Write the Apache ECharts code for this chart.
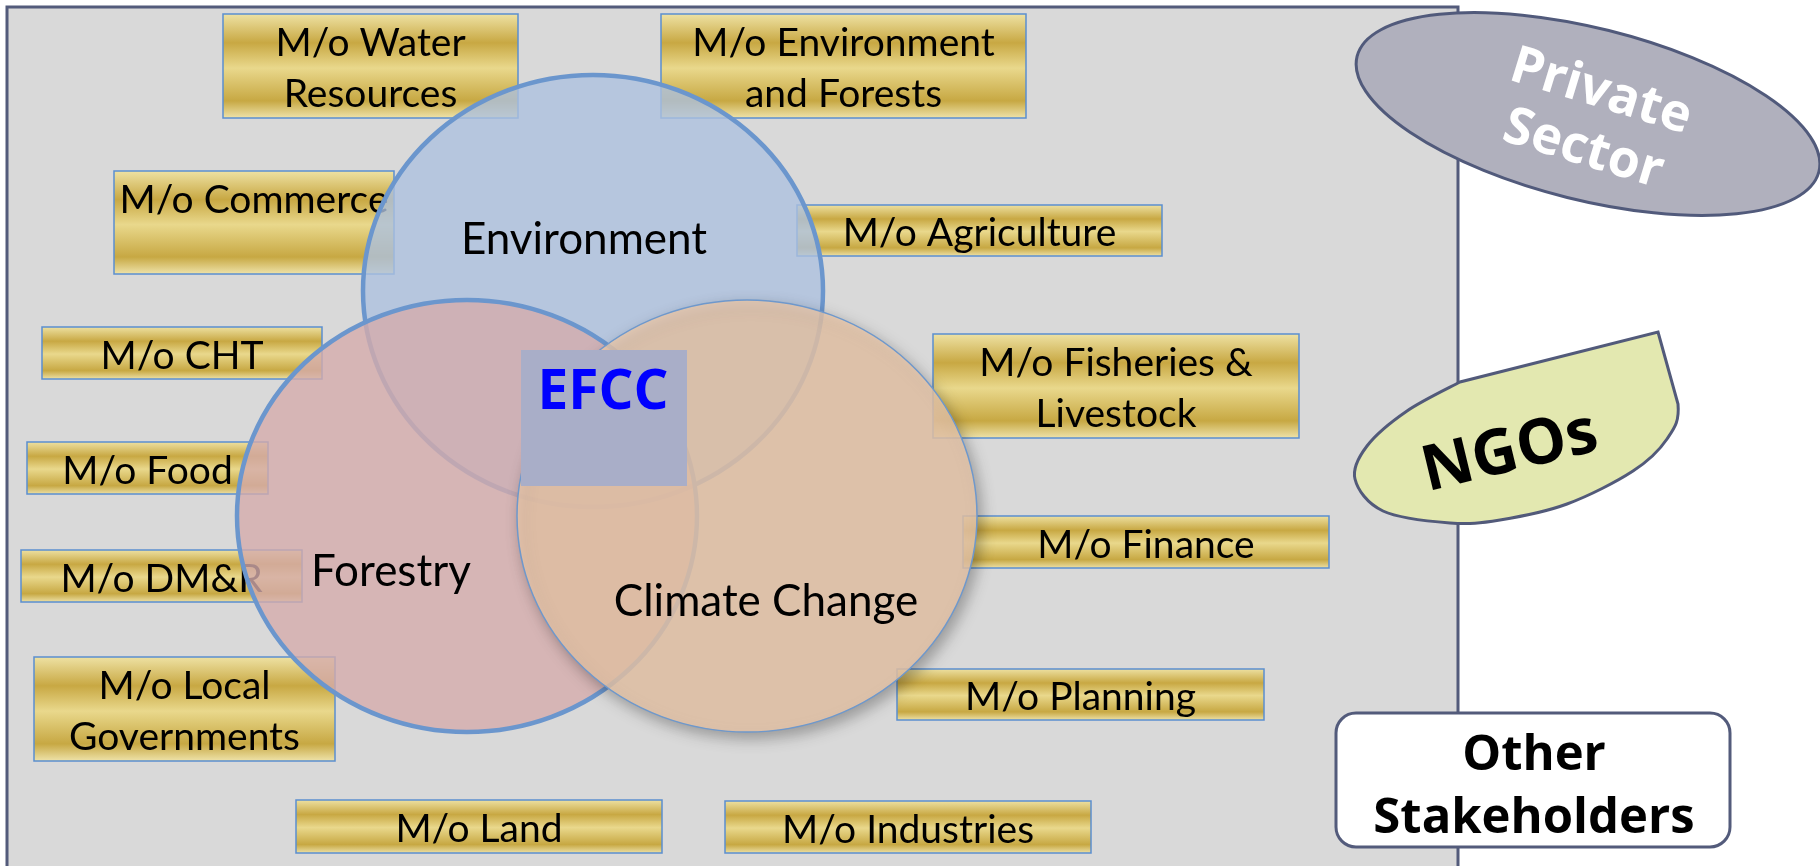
<!DOCTYPE html>
<html>
<head>
<meta charset="utf-8">
<script src="https://cdn.jsdelivr.net/npm/echarts@6/dist/echarts.min.js"></script>
<style>
html,body{margin:0;padding:0;background:#ffffff;}
#chart{width:1820px;height:866px;}
</style>
</head>
<body>
<div id="chart"></div>
<script>
// ---------------- content ----------------
const ministryLabels = [
  'M/o Water\nResources', 'M/o Environment\nand Forests', 'M/o Commerce', 'M/o Agriculture',
  'M/o CHT', 'M/o Fisheries &\nLivestock', 'M/o Food', 'M/o Finance', 'M/o DM&R',
  'M/o Local\nGovernments', 'M/o Planning', 'M/o Land', 'M/o Industries'
];
const circleLabels = ['Environment', 'Forestry', 'Climate Change'];
const coreLabel = 'EFCC';
const stakeholderLabels = ['Private\nSector', 'NGOs', 'Other\nStakeholders'];

// ---------------- layout (diagram units on hidden 0..1820 × 0..866 axes) ----------------
const boxLeft   = [223, 661, 114, 797,  42, 933,  27,  963,  21,  34,  897, 296,  725];
const boxTop    = [ 14,  14, 171, 205, 327, 334, 442,  516, 550, 657,  669, 800,  801];
const boxRight  = [518,1026, 394,1162, 322,1299, 268, 1329, 302, 335, 1264, 662, 1091];
const boxBottom = [118, 118, 274, 256, 379, 438, 494,  568, 602, 761,  720, 853,  853];
const boxTextShift = [3, 3, -22, 3, 3, 3, 3, 3, 3, 3, 3, 3, 3];

const circleCx = [593, 467, 747];
const circleCy = [291, 516, 516];
const circleRx = [230, 230, 230];
const circleRy = [216, 216, 216];
const circleLabelX = [584, 391, 766];
const circleLabelY = [240, 572, 602];

const coreBox = [521, 350, 687, 486];
const coreLabelPos = [603, 393];

const panelBox = [7, 7, 1458, 900];

const privateEllipse = [1588, 114, 238, 86];      // cx, cy, semi-major, semi-minor
const privateLabelPos = [1592, 121];
const ngoOutline = [
  [1658, 332], [1678, 404], [1667, 439], [1633, 471], [1567, 504], [1500, 520],
  [1450, 523], [1383, 511], [1355, 479], [1367, 446], [1407, 411], [1460, 382]
];
const ngoLabelPos = [1510, 453];
const otherBox = [1336, 713, 1730, 847];
const otherLabelPos = [1534, 788];

// ---------------- styles ----------------
const deg = Math.PI / 180;
const circleFill = ['rgba(172,193,223,0.8)', 'rgba(213,171,171,0.8)', 'rgba(238,202,172,0.8)'];
const circleStroke = ['#6b96cd', '#6b96cd', '#6e98cc'];
const circleStrokeW = [4.5, 4.5, 1.5];

function goldGradient() {
  return new echarts.graphic.LinearGradient(0, 0, 0, 1, [
    { offset: 0, color: '#efe3a6' },
    { offset: 0.28, color: '#c8a843' },
    { offset: 0.52, color: '#e9d88c' },
    { offset: 0.83, color: '#c7a843' },
    { offset: 1, color: '#f0e5ae' }
  ]);
}

function ellipsePath(cx, cy, rx, ry) {
  return 'M ' + (cx - rx) + ' ' + cy +
    ' A ' + rx + ' ' + ry + ' 0 1 0 ' + (cx + rx) + ' ' + cy +
    ' A ' + rx + ' ' + ry + ' 0 1 0 ' + (cx - rx) + ' ' + cy + ' Z';
}

function smoothPath(pts) {
  // corner -> straight to pts[1], Catmull-Rom through the rest, straight back to corner
  let d = 'M ' + pts[0][0] + ' ' + pts[0][1] + ' L ' + pts[1][0] + ' ' + pts[1][1];
  const n = pts.length;
  for (let i = 1; i < n - 1; i++) {
    const p0 = pts[i - 1], p1 = pts[i], p2 = pts[i + 1], p3 = pts[Math.min(i + 2, n - 1)];
    const c1 = [p1[0] + (p2[0] - p0[0]) / 6, p1[1] + (p2[1] - p0[1]) / 6];
    const c2 = [p2[0] - (p3[0] - p1[0]) / 6, p2[1] - (p3[1] - p1[1]) / 6];
    d += ' C ' + c1[0] + ' ' + c1[1] + ' ' + c2[0] + ' ' + c2[1] + ' ' + p2[0] + ' ' + p2[1];
  }
  d += ' Z';
  return d;
}

// ---------------- series data ----------------
const boxData = ministryLabels.map((_, i) => [boxLeft[i], boxTop[i], boxRight[i], boxBottom[i], i]);
const circleData = circleLabels.map((_, i) => [circleCx[i], circleCy[i], circleRx[i], circleRy[i], i]);

const chart = echarts.init(document.getElementById('chart'), null, { renderer: 'canvas' });

const option = {
  animation: false,
  backgroundColor: '#ffffff',
  grid: { left: 0, right: 0, top: 0, bottom: 0 },
  xAxis: { type: 'value', min: 0, max: 1820, show: false },
  yAxis: { type: 'value', min: 0, max: 866, inverse: true, show: false },
  series: [
    {
      type: 'custom', z: 1, silent: true,
      data: [panelBox],
      renderItem: function (params, api) {
        const p0 = api.coord([api.value(0), api.value(1)]);
        const p1 = api.coord([api.value(2), api.value(3)]);
        return {
          type: 'rect',
          shape: { x: p0[0], y: p0[1], width: p1[0] - p0[0], height: p1[1] - p0[1] },
          style: { fill: '#d9d9d9', stroke: '#535b7b', lineWidth: 3 }
        };
      }
    },
    {
      type: 'custom', z: 2, silent: true,
      data: boxData,
      renderItem: function (params, api) {
        const i = api.value(4);
        const p0 = api.coord([api.value(0), api.value(1)]);
        const p1 = api.coord([api.value(2), api.value(3)]);
        const tc = api.coord([(api.value(0) + api.value(2)) / 2,
                              (api.value(1) + api.value(3)) / 2 + boxTextShift[i]]);
        return {
          type: 'group',
          children: [
            {
              type: 'rect',
              shape: { x: p0[0], y: p0[1], width: p1[0] - p0[0], height: p1[1] - p0[1] },
              style: { fill: goldGradient(), stroke: '#5b8fd0', lineWidth: 1.5 }
            },
            {
              type: 'text', x: tc[0], y: tc[1],
              style: {
                text: ministryLabels[i], align: 'center', verticalAlign: 'middle',
                fontFamily: 'Lato', fontSize: 39, lineHeight: 51, fill: '#000000'
              }
            }
          ]
        };
      }
    },
    {
      type: 'custom', z: 3, silent: true,
      data: circleData,
      renderItem: function (params, api) {
        const i = api.value(4);
        const c = api.coord([api.value(0), api.value(1)]);
        const s = api.size([api.value(2), api.value(3)]);
        const lab = api.coord([circleLabelX[i], circleLabelY[i]]);
        const style = {
          fill: circleFill[i], stroke: circleStroke[i], lineWidth: circleStrokeW[i]
        };
        if (i === 2) {
          style.shadowBlur = 14;
          style.shadowColor = 'rgba(0,0,0,0.35)';
          style.shadowOffsetX = 4;
          style.shadowOffsetY = 6;
        }
        return {
          type: 'group',
          children: [
            { type: 'path', z2: i * 2, shape: { pathData: ellipsePath(c[0], c[1], s[0], s[1]) }, style: style },
            {
              type: 'text', z2: 50, x: lab[0], y: lab[1],
              style: {
                text: circleLabels[i], align: 'center', verticalAlign: 'middle',
                fontFamily: 'Lato', fontSize: 44, fill: '#000000'
              }
            }
          ]
        };
      }
    },
    {
      type: 'custom', z: 4, silent: true,
      data: [coreBox],
      renderItem: function (params, api) {
        const p0 = api.coord([api.value(0), api.value(1)]);
        const p1 = api.coord([api.value(2), api.value(3)]);
        const t = api.coord(coreLabelPos);
        return {
          type: 'group',
          children: [
            {
              type: 'rect',
              shape: { x: p0[0], y: p0[1], width: p1[0] - p0[0], height: p1[1] - p0[1] },
              style: { fill: '#a9aec8' }
            },
            {
              type: 'text', x: t[0], y: t[1],
              style: {
                text: coreLabel, align: 'center', verticalAlign: 'middle',
                fontFamily: 'Open Sans', fontWeight: 'bold', fontSize: 55, fill: '#0000ff'
              }
            }
          ]
        };
      }
    },
    {
      type: 'custom', z: 5, silent: true,
      data: [[0], [1], [2]],
      renderItem: function (params, api) {
        const i = api.value(0);
        if (i === 0) {
          const c = api.coord([privateEllipse[0], privateEllipse[1]]);
          const s = api.size([privateEllipse[2], privateEllipse[3]]);
          const t = api.coord(privateLabelPos);
          return {
            type: 'group',
            children: [
              {
                type: 'group', x: c[0], y: c[1], rotation: -14 * deg,
                children: [{
                  type: 'path', shape: { pathData: ellipsePath(0, 0, s[0], s[1]) },
                  style: { fill: '#b0b0bd', stroke: '#515a7b', lineWidth: 3 }
                }]
              },
              {
                type: 'text', x: t[0], y: t[1], rotation: -17 * deg,
                style: {
                  text: stakeholderLabels[0], align: 'center', verticalAlign: 'middle',
                  fontFamily: 'Open Sans', fontWeight: 'bold', fontSize: 52, lineHeight: 60, fill: '#ffffff'
                }
              }
            ]
          };
        }
        if (i === 1) {
          const pts = ngoOutline.map(p => api.coord(p));
          const t = api.coord(ngoLabelPos);
          return {
            type: 'group',
            children: [
              {
                type: 'path', shape: { pathData: smoothPath(pts) },
                style: { fill: '#e3e8b0', stroke: '#525a7a', lineWidth: 3 }
              },
              {
                type: 'text', x: t[0], y: t[1], rotation: 13.5 * deg,
                style: {
                  text: stakeholderLabels[1], align: 'center', verticalAlign: 'middle',
                  fontFamily: 'Open Sans', fontWeight: 'bold', fontSize: 63, fill: '#000000'
                }
              }
            ]
          };
        }
        const p0 = api.coord([otherBox[0], otherBox[1]]);
        const p1 = api.coord([otherBox[2], otherBox[3]]);
        const t = api.coord(otherLabelPos);
        return {
          type: 'group',
          children: [
            {
              type: 'rect',
              shape: { x: p0[0], y: p0[1], width: p1[0] - p0[0], height: p1[1] - p0[1], r: 20 },
              style: { fill: '#ffffff', stroke: '#535b7b', lineWidth: 3 }
            },
            {
              type: 'text', x: t[0], y: t[1],
              style: {
                text: stakeholderLabels[2], align: 'center', verticalAlign: 'middle',
                fontFamily: 'Open Sans', fontWeight: 'bold', fontSize: 49, lineHeight: 63, fill: '#000000'
              }
            }
          ]
        };
      }
    }
  ]
};

chart.setOption(option);
</script>
</body>
</html>
